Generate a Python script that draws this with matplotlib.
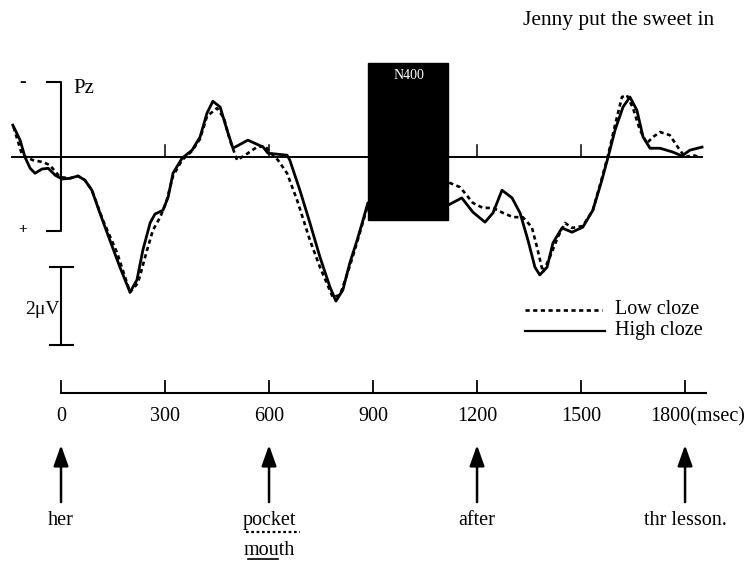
import matplotlib
matplotlib.use("Agg")
import matplotlib.pyplot as plt
import matplotlib.patches as patches

matplotlib.rcParams.update({'font.family': 'Liberation Serif', 'font.size': 14})

# ERP at Pz, time in msec, amplitude in microvolts (negative plotted up)
t_high = [-139, -118, -104, -89, -75, -55, -37, -17, 3, 26, 49, 69, 89, 112, 141, 170, 199,
          219, 236, 257, 271, 294, 309, 323, 349, 378, 401, 421, 438, 459, 479, 496, 539,
          583, 597, 652, 660, 689, 718, 747, 776, 793, 813, 833, 854, 871, 885,
          1116, 1156, 1188, 1223, 1246, 1272, 1301, 1324, 1347, 1367, 1381, 1402, 1419,
          1445, 1474, 1505, 1534, 1560, 1578, 1598, 1621, 1641, 1661, 1679, 1699, 1728,
          1765, 1791, 1814, 1849]
v_high = [-0.83, -0.44, 0.0, 0.29, 0.42, 0.31, 0.29, 0.47, 0.57, 0.55, 0.49, 0.60, 0.86,
          1.45, 2.16, 2.86, 3.51, 3.19, 2.42, 1.71, 1.48, 1.38, 1.04, 0.42, 0.03, -0.18,
          -0.52, -1.14, -1.45, -1.30, -0.70, -0.23, -0.44, -0.26, -0.10, -0.05, 0.08,
          0.86, 1.71, 2.60, 3.38, 3.74, 3.45, 2.75, 2.16, 1.64, 1.19,
          1.25, 1.06, 1.43, 1.69, 1.45, 0.86, 1.06, 1.45, 2.16, 2.86, 3.06, 2.86, 2.23,
          1.84, 1.95, 1.82, 1.38, 0.60, 0.0, -0.70, -1.30, -1.56, -1.22, -0.52, -0.23,
          -0.23, -0.13, -0.03, -0.18, -0.26]

t_low = [-137, -112, -81, -52, -32, -3, 26, 49, 69, 89, 121, 162, 199, 222, 248, 265, 286,
         303, 323, 349, 378, 401, 421, 450, 470, 487, 508, 539, 565, 588, 611, 626, 652,
         681, 718, 747, 784, 805, 833, 854, 871, 885,
         1116, 1151, 1188, 1217, 1246, 1275, 1304, 1332, 1358, 1373, 1390, 1410, 1433,
         1454, 1474, 1505, 1534, 1560, 1578, 1598, 1618, 1632, 1650, 1670, 1690, 1707,
         1728, 1756, 1779, 1800, 1823, 1843]
v_low = [-0.78, -0.05, 0.08, 0.13, 0.21, 0.52, 0.55, 0.49, 0.60, 0.86, 1.64, 2.49, 3.51,
         3.27, 2.42, 1.90, 1.56, 1.19, 0.49, 0.08, -0.16, -0.47, -1.06, -1.27, -1.01,
         -0.44, 0.08, -0.10, -0.26, -0.29, -0.05, 0.08, 0.42, 1.12, 2.16, 2.86, 3.64,
         3.58, 2.83, 2.21, 1.69, 1.25,
         0.65, 0.78, 1.19, 1.32, 1.32, 1.45, 1.56, 1.56, 1.82, 2.34, 2.99, 2.60, 2.08,
         1.71, 1.84, 1.79, 1.38, 0.55, -0.05, -0.83, -1.56, -1.61, -1.27, -0.70, -0.36,
         -0.52, -0.65, -0.57, -0.26, 0.0, -0.05, 0.0]

time_ticks = [0, 300, 600, 900, 1200, 1500, 1800]
tick_labels = ['0', '300', '600', '900', '1200', '1500', '1800(msec)']
zero_ticks = [300, 600, 1200, 1500]
word_times = [0, 600, 1200, 1800]
words = ['her', 'pocket', 'after', 'thr lesson.']

fig = plt.figure(figsize=(7.53, 5.61), dpi=100)
ax = fig.add_axes([0, 0, 1, 1])
ax.set_xlim(-176, 1996)
ax.set_ylim(10.49, -4.08)
ax.axis('off')

# baseline with small ticks
ax.plot([-141, 1849], [0, 0], color='k', lw=1.4)
for t in zero_ticks:
    ax.plot([t, t], [0, -0.32], color='k', lw=1.1)

ax.plot(t_low, v_low, color='k', lw=1.9, linestyle=(0, (1.6, 1.3)))
ax.plot(t_high, v_high, color='k', lw=2.0)

# N400 window
ax.add_patch(patches.Rectangle((885, -2.44), 231, 4.08, facecolor='k', edgecolor='k', zorder=5))
ax.text(1004, -2.13, 'N400', color='white', fontsize=10, ha='center', va='center', zorder=6)

# Pz bracket
ax.plot([-40, 0, 0, -40], [-1.95, -1.95, 1.92, 1.92], color='k', lw=1.5)
ax.text(-112, -1.95, '-', ha='center', va='center', fontsize=14, fontweight='bold')
ax.text(-112, 1.88, '+', ha='center', va='center', fontsize=11, fontweight='bold')
ax.text(35, -1.79, 'Pz', ha='left', va='center', fontsize=15)

# 2 uV scale
ax.plot([0, 0], [2.86, 4.88], color='k', lw=1.5)
ax.plot([-32, 35], [2.86, 2.86], color='k', lw=1.5)
ax.plot([-32, 35], [4.88, 4.88], color='k', lw=1.5)
ax.text(-4, 3.97, '2μV', ha='right', va='center', fontsize=14)

# legend
ax.plot([1339, 1561], [3.97, 3.97], color='k', lw=1.9, linestyle=(0, (1.6, 1.3)))
ax.plot([1339, 1570], [4.52, 4.52], color='k', lw=1.6)
ax.text(1598, 3.95, 'Low cloze', ha='left', va='center', fontsize=14.5)
ax.text(1598, 4.50, 'High cloze', ha='left', va='center', fontsize=14.5)

ax.text(1332, -3.56, 'Jenny put the sweet in', ha='left', va='center', fontsize=15.5)

# time axis
ax.plot([0, 1860], [6.13, 6.13], color='k', lw=1.5)
for t, lab in zip(time_ticks, tick_labels):
    ax.plot([t, t], [6.13, 5.82], color='k', lw=1.3)
    if lab.endswith('(msec)'):
        ax.text(t - 100, 6.75, lab, ha='left', va='center', fontsize=14.5)
    else:
        ax.text(t, 6.75, lab, ha='center', va='center', fontsize=14.5)

# word onset arrows
for t, w in zip(word_times, words):
    ax.annotate('', xy=(t, 7.48), xytext=(t, 8.96),
                arrowprops=dict(arrowstyle='-|>,head_length=0.7,head_width=0.25',
                                lw=1.8, color='k', mutation_scale=18,
                                shrinkA=0, shrinkB=0))
    ax.text(t, 9.43, w, ha='center', va='center', fontsize=14.5)

ax.plot([535, 690], [9.74, 9.74], color='k', lw=1.6, linestyle=(0, (1.2, 1.2)))
ax.text(600, 10.21, 'mouth', ha='center', va='center', fontsize=14.5)
ax.plot([540, 626], [10.45, 10.45], color='k', lw=1.2)

plt.savefig('out.png', dpi=100)
